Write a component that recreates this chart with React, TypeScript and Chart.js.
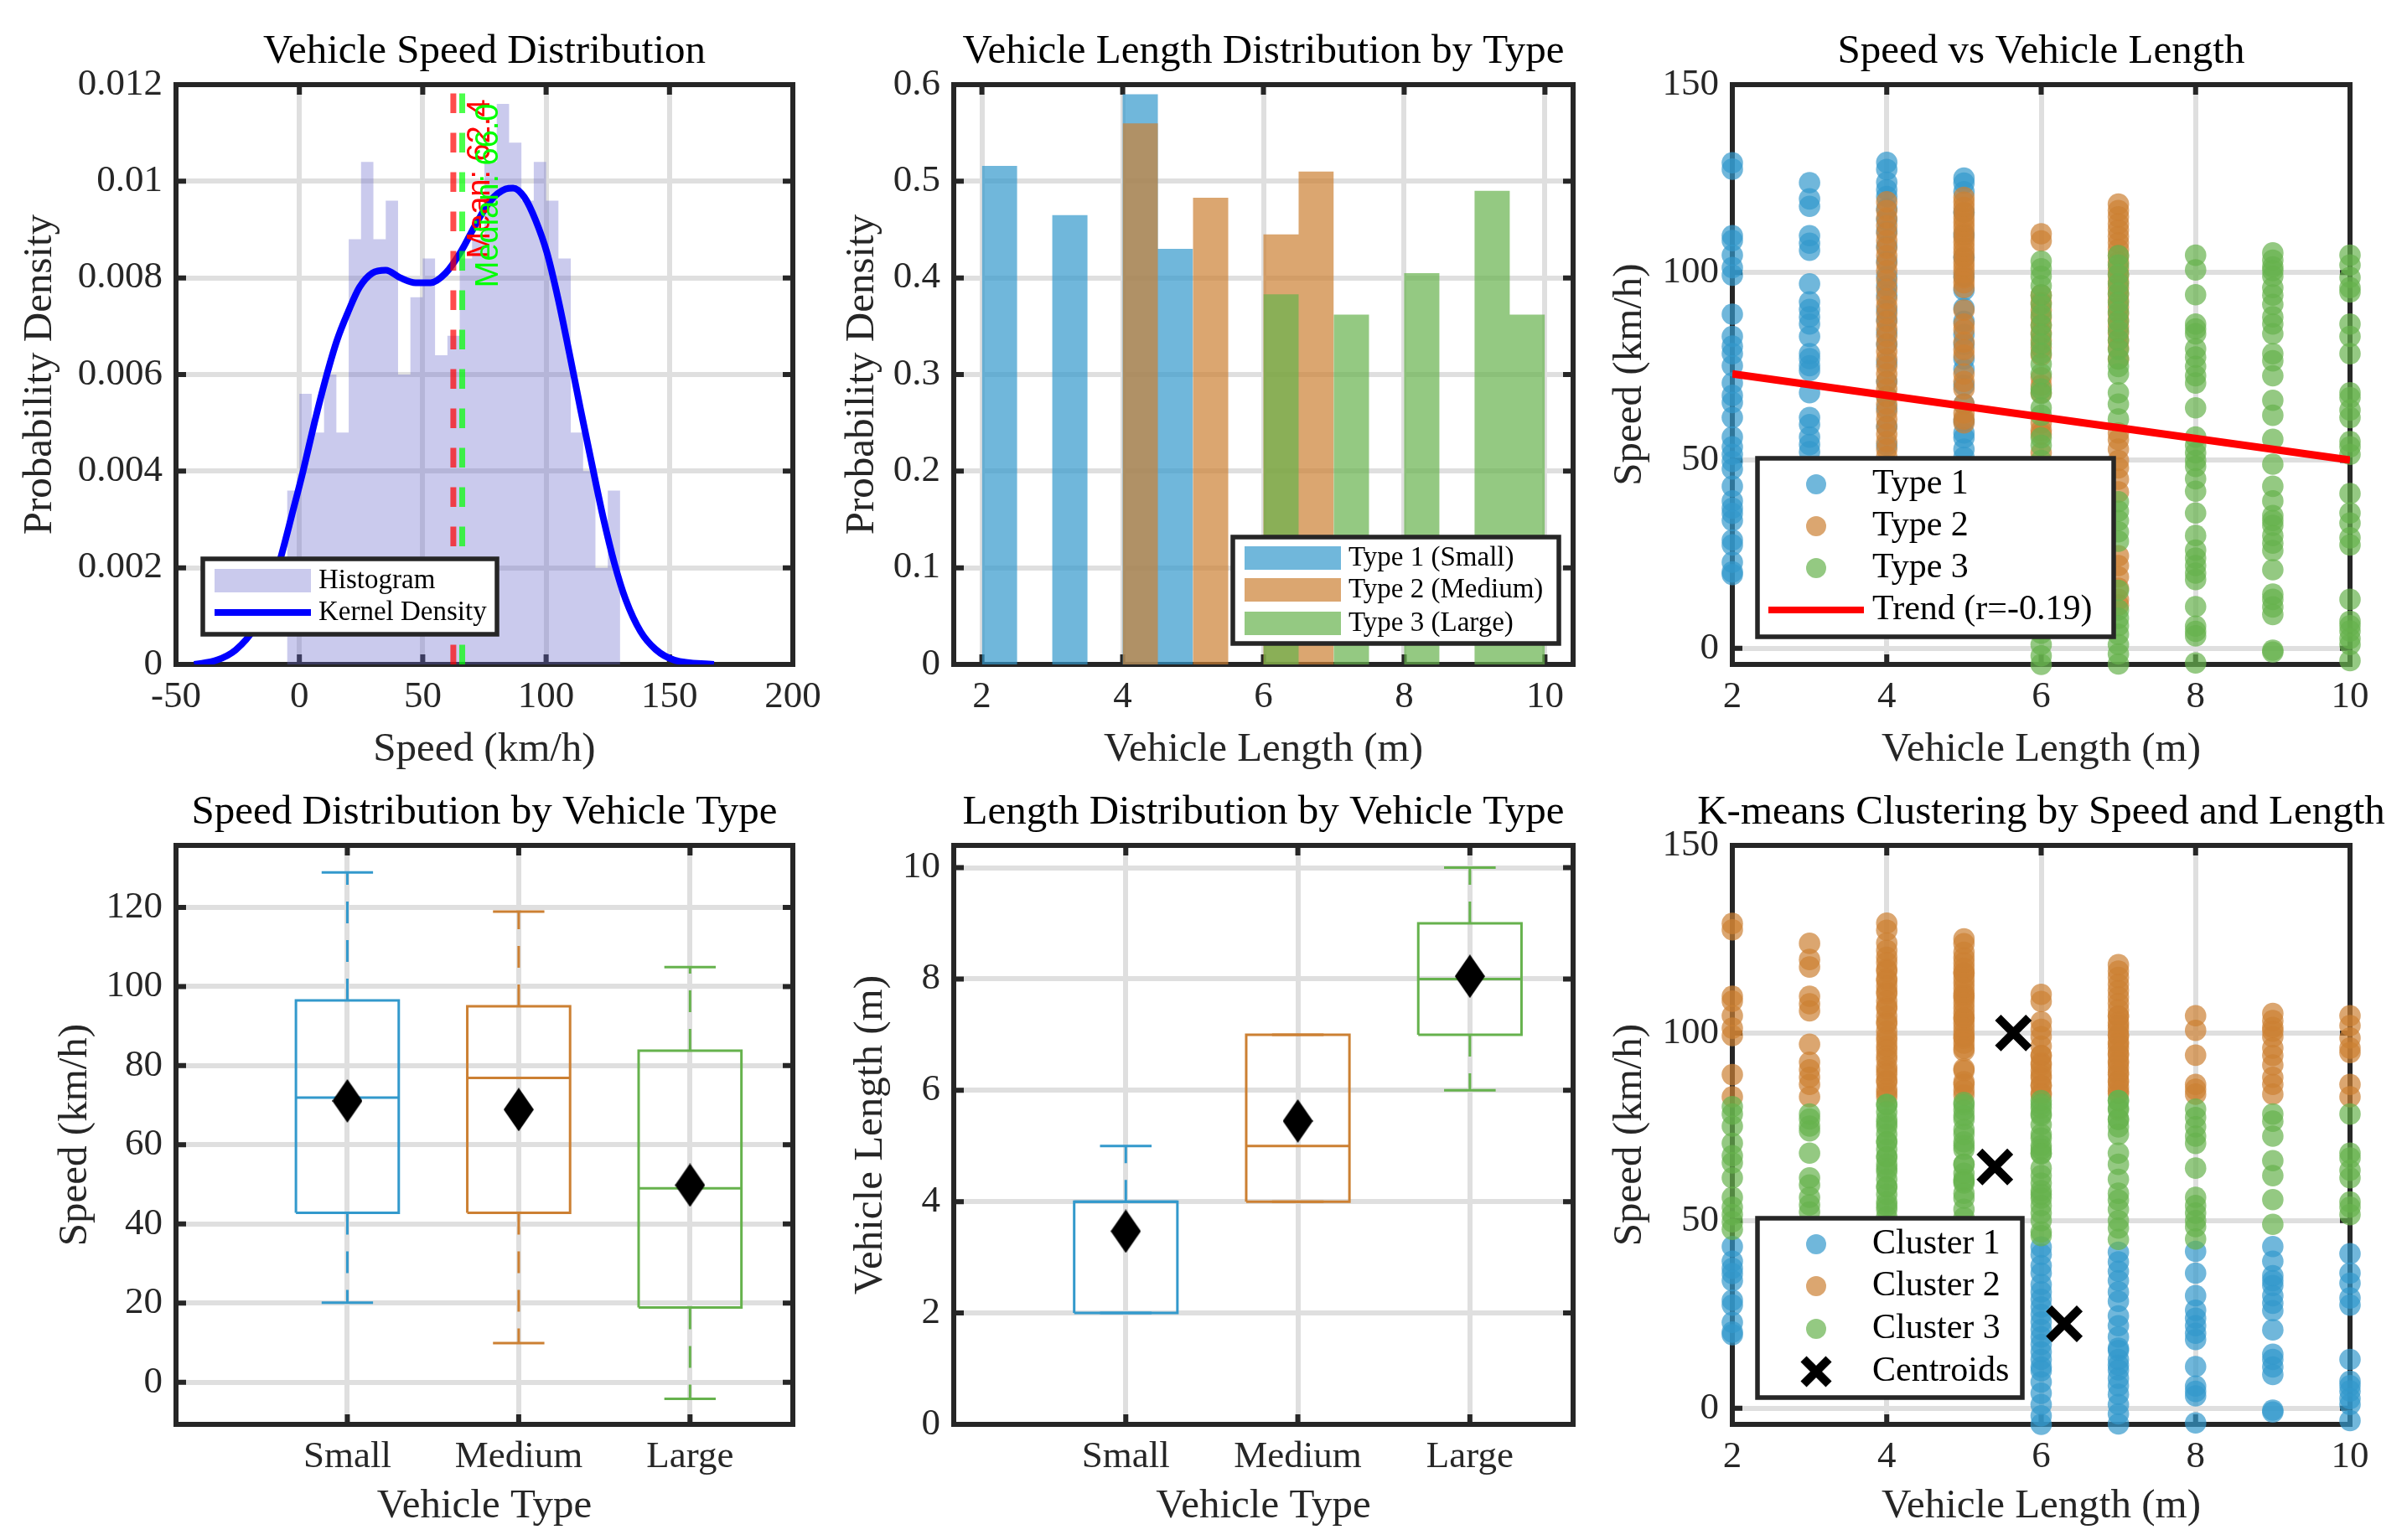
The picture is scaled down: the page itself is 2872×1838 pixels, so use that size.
import React, { useEffect, useRef } from 'react';
import { Chart, registerables } from 'chart.js';

Chart.register(...registerables);

const FIG_W = 2872;
const FIG_H = 1838;
const SERIF = '"Liberation Serif", "Times New Roman", serif';
const SANS = '"Liberation Sans", Arial, sans-serif';
const INK = '#262626';
const GRID = '#dfdfdf';
const TICK_SIZE = 45;
const LABEL_SIZE = 49;
const TITLE_SIZE = 49;

const BLUE = [51, 153, 204];
const ORANGE = [204, 128, 51];
const GREEN = [102, 178, 77];
const rgba = (c: number[], a: number) => `rgba(${c[0]},${c[1]},${c[2]},${a})`;

// ---------------- DATA ----------------
// Plot 1: speed histogram (density) + kernel density
const speedBinEdges = [-5, 0, 5, 10, 15, 20, 25, 30, 35, 40, 45, 50, 55, 60, 65, 70, 75, 80, 85, 90, 95, 100, 105, 110, 115, 120, 125, 130];
const speedBinDensity = [0.0036, 0.0056, 0.0048, 0.006, 0.0048, 0.0088, 0.0104, 0.0088, 0.0096, 0.006, 0.0076, 0.0084, 0.0064, 0.0068, 0.0084, 0.0088, 0.0104, 0.0116, 0.0108, 0.0096, 0.0104, 0.0096, 0.0084, 0.0048, 0.004, 0.002, 0.0036];
const kdeSpeed = [-42.6, -33.4, -25.8, -18.2, -12.2, -7.6, -3, 1.5, 6.1, 10.6, 15.2, 19.8, 24.3, 29.6, 35, 41, 47.1, 53.2, 59.3, 65.3, 71.4, 77.5, 83.6, 86.6, 91.2, 95.7, 100.3, 104.9, 109.4, 114, 118.5, 123.1, 127.7, 132.2, 138.3, 144.4, 152, 168];
const kdeDensity = [0, 0.00009, 0.0003, 0.00075, 0.0014, 0.0022, 0.0031, 0.004, 0.005, 0.0059, 0.0067, 0.0073, 0.0078, 0.0081, 0.00816, 0.008, 0.0079, 0.0079, 0.0081, 0.00853, 0.0091, 0.0096, 0.00984, 0.00986, 0.00967, 0.0092, 0.00853, 0.00756, 0.00645, 0.00527, 0.00416, 0.00305, 0.00209, 0.00135, 0.00068, 0.00031, 0.00009, 0];
const meanSpeed = 62.4;
const medianSpeed = 66.0;
const speedTicks = [-50, 0, 50, 100, 150, 200];
const density1Ticks = [0, 0.002, 0.004, 0.006, 0.008, 0.01, 0.012];

// Plot 2: length histograms per type
const type1LenEdges = [2, 2.5, 3, 3.5, 4, 4.5, 5];
const type1LenDensity = [0.516, 0, 0.465, 0, 0.59, 0.43];
const type2LenEdges = [4, 4.5, 5, 5.5, 6, 6.5, 7];
const type2LenDensity = [0.56, 0, 0.483, 0, 0.445, 0.51];
const type3LenEdges = [6, 6.5, 7, 7.5, 8, 8.5, 9, 9.5, 10];
const type3LenDensity = [0.383, 0, 0.362, 0, 0.405, 0, 0.49, 0.362];
const lengthTicks = [2, 4, 6, 8, 10];
const density2Ticks = [0, 0.1, 0.2, 0.3, 0.4, 0.5, 0.6];

// Plot 3 / 6: speed observations by vehicle length
const type1Lengths = [2, 3, 4, 5];
const type1Speeds = [
  [129.2, 127.5, 109.8, 108.5, 104.6, 101.3, 99.3, 88.9, 83, 80.4, 78.4, 75.2, 70.6, 67.3, 65.4, 61.4, 56.2, 53.6, 51.6, 49.7, 47.7, 43.1, 39.2, 37.3, 35.9, 34, 28.8, 27.5, 22.9, 20.3, 19.6],
  [123.9, 119.6, 117.6, 109.8, 107.8, 105.9, 97, 92.2, 90.2, 88.2, 86.3, 83, 78.4, 77.1, 75.2, 73.9, 68, 61.4, 59.5, 56.2, 54.2, 52.3, 46, 41, 35, 30, 24],
  [129.3, 127.4, 124, 122, 120.2, 117, 114, 111, 107, 103, 99, 96.5, 94, 90, 87.4, 84, 80.9, 76, 71, 67, 63.9, 59, 54, 47, 42, 38, 33, 29, 25, 21],
  [125.1, 123.8, 121.5, 116, 110, 104, 99, 95.3, 90.5, 87, 83.5, 80.9, 77, 74.3, 70, 65, 60.5, 57.3, 56, 53, 50.8, 45, 39, 33, 27, 21],
];
const type2Lengths = [4, 5, 6, 7];
const type2Speeds = [
  [118.8, 116.5, 114.5, 112.5, 110.5, 108.5, 106.5, 104.5, 102.5, 100.5, 98, 95.5, 93, 91, 89, 87, 85, 83, 81, 79, 77, 75, 73, 71, 69, 67, 65, 63, 61, 59, 57, 55, 53, 51, 48, 44, 39, 34, 28, 22, 16, 11],
  [120, 118.7, 117.3, 116, 114.6, 113.3, 112, 110.6, 109.3, 108, 106.6, 105.3, 104, 102.6, 101.3, 100, 98.6, 97.3, 96, 90, 86.3, 84.8, 81.5, 79.5, 78, 73, 71, 69, 65, 62.6, 61, 60, 48, 42, 36, 30, 25, 18],
  [110.3, 108.4, 94, 92, 90, 88, 86, 84, 82, 80, 78, 72, 70, 68, 60, 58, 57, 52, 47, 43, 38, 33, 29, 25, 21, 17, 13, 10],
  [118.2, 116.5, 114.8, 113, 111.3, 109.6, 107.9, 106.2, 104.5, 102.8, 101, 99.3, 97.6, 95.9, 94.2, 92.5, 90.8, 89, 87.3, 85.6, 83.9, 82, 80, 77, 57.3, 55.5, 53, 50, 48, 45, 41.6, 24.6, 22, 19, 16, 13, 11.5],
];
const type3Lengths = [6, 7, 8, 9, 10];
const type3Speeds = [
  [103, 101, 99, 96.5, 94, 91.5, 88.7, 86, 83.5, 81, 78.5, 75.6, 73, 69, 67.8, 64, 62, 56, 54, 50, 46, 41, 36, 31, 27, 23, 19, 15, 11, 7, 4, 1, -2, -4.3],
  [104.5, 102, 99.5, 97, 94.5, 92, 89.5, 87, 84.5, 82, 79.5, 77, 75, 73, 68, 65, 61, 39, 36.5, 34, 31, 28.5, 15.4, 10.2, 8, 6, 3.7, 1, -1.5, -4.2],
  [104.6, 100.7, 94.1, 86.3, 85, 83.7, 79.7, 77.5, 75, 72.5, 70.6, 64, 56.2, 54, 52, 50, 48.4, 45.1, 41.8, 36, 30, 26.1, 24, 22, 20, 18.3, 11.1, 5.9, 4.5, 3.3, -3.9],
  [105.2, 103.3, 101.5, 100.5, 99, 96, 94, 91.5, 88.2, 86.3, 83.7, 78.4, 76.5, 72.5, 66, 62, 55.6, 49, 43.1, 39.2, 35.3, 34, 32.7, 30, 28, 26, 20.9, 14.4, 13, 11, 9, -0.5, -1],
  [104.6, 102, 98.7, 96, 94.8, 86.3, 83, 78.4, 68, 66.7, 63.4, 61.4, 55, 53.6, 51.6, 41.2, 36, 33.3, 29.4, 27.5, 13, 7.2, 6, 4.6, 2.6, 1, -3.3],
];
const trendLength = [2, 10];
const trendSpeed = [73.0, 50.1];
const trendR = -0.19;
const speed3Ticks = [0, 50, 100, 150];

// K-means centroids (cluster 1, 2, 3)
const centroidLength = [6.3, 5.64, 5.4];
const centroidSpeed = [22.5, 100, 64.3];

// Plot 4 / 5: box plot summaries
const vehicleTypes = ['Small', 'Medium', 'Large'];
const typePositions = [1, 2, 3];
const speedMin = [20.1, 9.9, -4.2];
const speedQ1 = [42.8, 42.8, 18.9];
const speedMedian = [71.9, 76.9, 49.0];
const speedQ3 = [96.5, 95.0, 83.8];
const speedMax = [128.8, 118.9, 104.9];
const speedMean = [71.1, 68.9, 49.8];
const lengthMin = [2, 4, 6];
const lengthQ1 = [2, 4, 7];
const lengthMedian = [4, 5, 8];
const lengthQ3 = [4, 7, 9];
const lengthMax = [5, 7, 10];
const lengthMean = [3.47, 5.45, 8.05];
const boxSpeedTicks = [0, 20, 40, 60, 80, 100, 120];
const boxLengthTicks = [0, 2, 4, 6, 8, 10];

// ---------------- HELPERS ----------------
type P = { x: number; y: number };

function stepPoints(edges: number[], heights: number[]): P[] {
  const pts: P[] = [{ x: edges[0], y: 0 }];
  heights.forEach((h, i) => {
    pts.push({ x: edges[i], y: h }, { x: edges[i + 1], y: h });
  });
  pts.push({ x: edges[edges.length - 1], y: 0 });
  return pts;
}

function columnPoints(lengths: number[], speeds: number[][]): P[] {
  return lengths.flatMap((L, i) => speeds[i].map((s) => ({ x: L, y: s })));
}

const type1Points = columnPoints(type1Lengths, type1Speeds);
const type2Points = columnPoints(type2Lengths, type2Speeds);
const type3Points = columnPoints(type3Lengths, type3Speeds);

function nearestCluster(p: P): number {
  let best = 0;
  let bd = Infinity;
  centroidLength.forEach((cx, k) => {
    const d = (p.x - cx) ** 2 + (p.y - centroidSpeed[k]) ** 2;
    if (d < bd) {
      bd = d;
      best = k;
    }
  });
  return best;
}
const allPoints = [...type1Points, ...type2Points, ...type3Points];
const clusterPoints = [0, 1, 2].map((k) => allPoints.filter((p) => nearestCluster(p) === k));

const DOT_R = 12.8;

function axesOptions(a: any) {
  const lh = LABEL_SIZE * 1.2;
  const padLeft = a.yTitleX - lh / 2;
  const yWidth = a.L - padLeft;
  const xHeight = a.xTitleY - a.B + lh / 2;
  const tickFont = { family: SERIF, size: TICK_SIZE };
  const labelFont = { family: SERIF, size: LABEL_SIZE, lineHeight: 1.2 };
  const fmt = (v: number) => String(v);
  return {
    responsive: false,
    animation: false,
    devicePixelRatio: 1,
    events: [],
    layout: { padding: { left: padLeft, top: a.T, right: FIG_W - a.R, bottom: FIG_H - a.B - xHeight } },
    plugins: { legend: { display: false }, title: { display: false }, tooltip: { enabled: false } },
    scales: {
      x: {
        type: 'linear',
        min: a.xMin,
        max: a.xMax,
        afterBuildTicks: (s: any) => {
          s.ticks = a.xTicks.map((v: number) => ({ value: v }));
        },
        afterFit: (s: any) => {
          s.height = xHeight;
        },
        grid: { color: GRID, lineWidth: 6, drawTicks: false },
        border: { display: false },
        ticks: { color: INK, font: tickFont, padding: 12, autoSkip: false, maxRotation: 0, minRotation: 0, callback: a.xFmt || fmt },
        title: { display: true, text: a.xLabel, color: INK, font: labelFont, padding: 0 },
      },
      y: {
        type: 'linear',
        min: a.yMin,
        max: a.yMax,
        afterBuildTicks: (s: any) => {
          s.ticks = a.yTicks.map((v: number) => ({ value: v }));
        },
        afterFit: (s: any) => {
          s.width = yWidth;
        },
        grid: { color: GRID, lineWidth: 6, drawTicks: false },
        border: { display: false },
        ticks: { color: INK, font: tickFont, padding: 16, autoSkip: false, callback: fmt },
        title: { display: true, text: a.yLabel, color: INK, font: labelFont, padding: 0 },
      },
    },
  };
}

function boxPlugin() {
  return {
    id: 'matlabBox',
    beforeDatasetsDraw(chart: any) {
      const { ctx, chartArea, scales } = chart;
      const { left, top, right, bottom } = chartArea;
      const tl = 12;
      ctx.save();
      ctx.strokeStyle = INK;
      ctx.lineWidth = 6;
      ctx.beginPath();
      scales.x.ticks.forEach((t: any) => {
        const px = scales.x.getPixelForValue(t.value);
        ctx.moveTo(px, bottom);
        ctx.lineTo(px, bottom - tl);
        ctx.moveTo(px, top);
        ctx.lineTo(px, top + tl);
      });
      scales.y.ticks.forEach((t: any) => {
        const py = scales.y.getPixelForValue(t.value);
        ctx.moveTo(left, py);
        ctx.lineTo(left + tl, py);
        ctx.moveTo(right, py);
        ctx.lineTo(right - tl, py);
      });
      ctx.stroke();
      ctx.strokeRect(left, top, right - left, bottom - top);
      ctx.restore();
    },
  };
}

function titlePlugin(text: string) {
  return {
    id: 'figTitle',
    afterDraw(chart: any) {
      const { ctx, chartArea } = chart;
      ctx.save();
      ctx.fillStyle = '#000';
      ctx.font = `${TITLE_SIZE}px ${SERIF}`;
      ctx.textAlign = 'center';
      ctx.textBaseline = 'middle';
      ctx.fillText(text, (chartArea.left + chartArea.right) / 2, chartArea.top - 39);
      ctx.restore();
    },
  };
}

type LegendItem = { kind: string; color: string; label: string; y: number };
function legendPlugin(spec: { box: number[]; markerX: number[]; textX: number; fontSize: number; items: LegendItem[] }) {
  return {
    id: 'customLegend',
    afterDatasetsDraw(chart: any) {
      const { ctx } = chart;
      const [x0, y0, x1, y1] = spec.box;
      const [m0, m1] = spec.markerX;
      const mc = (m0 + m1) / 2;
      ctx.save();
      ctx.fillStyle = '#fff';
      ctx.fillRect(x0, y0, x1 - x0, y1 - y0);
      ctx.lineWidth = 5.5;
      ctx.strokeStyle = INK;
      ctx.strokeRect(x0, y0, x1 - x0, y1 - y0);
      spec.items.forEach((it) => {
        if (it.kind === 'rect') {
          ctx.fillStyle = it.color;
          ctx.fillRect(m0, it.y - 14, m1 - m0, 28);
        } else if (it.kind === 'line') {
          ctx.strokeStyle = it.color;
          ctx.lineWidth = 8;
          ctx.beginPath();
          ctx.moveTo(m0, it.y);
          ctx.lineTo(m1, it.y);
          ctx.stroke();
        } else if (it.kind === 'circle') {
          ctx.fillStyle = it.color;
          ctx.beginPath();
          ctx.arc(mc, it.y, 12, 0, Math.PI * 2);
          ctx.fill();
        } else if (it.kind === 'cross') {
          ctx.strokeStyle = it.color;
          ctx.lineWidth = 10;
          ctx.beginPath();
          ctx.moveTo(mc - 15, it.y - 15);
          ctx.lineTo(mc + 15, it.y + 15);
          ctx.moveTo(mc - 15, it.y + 15);
          ctx.lineTo(mc + 15, it.y - 15);
          ctx.stroke();
        }
        ctx.fillStyle = '#000';
        ctx.font = `${spec.fontSize}px ${SERIF}`;
        ctx.textAlign = 'left';
        ctx.textBaseline = 'middle';
        ctx.fillText(it.label, spec.textX, it.y);
      });
      ctx.restore();
    },
  };
}

function statTextPlugin(labels: { value: number; text: string; color: string; y: number }[]) {
  return {
    id: 'statText',
    afterDatasetsDraw(chart: any) {
      const { ctx, scales } = chart;
      ctx.save();
      ctx.font = `38px ${SANS}`;
      ctx.textAlign = 'left';
      ctx.textBaseline = 'middle';
      labels.forEach((l) => {
        const px = scales.x.getPixelForValue(l.value + 11);
        const py = scales.y.getPixelForValue(l.y);
        ctx.save();
        ctx.translate(px, py);
        ctx.rotate(-Math.PI / 2);
        ctx.fillStyle = l.color;
        ctx.fillText(l.text, 0, 0);
        ctx.restore();
      });
      ctx.restore();
    },
  };
}

function lineDs(data: P[], color: string, width: number, order: number, extra: any = {}) {
  return { data, borderColor: color, borderWidth: width, pointRadius: 0, fill: false, tension: 0, order, ...extra };
}

function scatterDs(data: P[], color: string, order: number) {
  return {
    data,
    showLine: false,
    pointRadius: DOT_R,
    pointBackgroundColor: color,
    pointBorderWidth: 0,
    pointBorderColor: 'transparent',
    clip: false,
    order,
  };
}

function boxDatasets(mins: number[], q1: number[], med: number[], q3: number[], maxs: number[], colors: number[][]) {
  const ds: any[] = [];
  typePositions.forEach((c, i) => {
    const col = rgba(colors[i], 1);
    const bw = 0.3;
    const cw = 0.15;
    ds.push(lineDs([{ x: c - bw, y: q1[i] }, { x: c + bw, y: q1[i] }, { x: c + bw, y: q3[i] }, { x: c - bw, y: q3[i] }, { x: c - bw, y: q1[i] }], col, 3, 3));
    ds.push(lineDs([{ x: c - bw, y: med[i] }, { x: c + bw, y: med[i] }], col, 3, 3));
    ds.push(lineDs([{ x: c, y: q3[i] }, { x: c, y: maxs[i] }], col, 3, 3, { borderDash: [26, 20] }));
    ds.push(lineDs([{ x: c, y: q1[i] }, { x: c, y: mins[i] }], col, 3, 3, { borderDash: [26, 20] }));
    ds.push(lineDs([{ x: c - cw, y: maxs[i] }, { x: c + cw, y: maxs[i] }], col, 3, 3));
    ds.push(lineDs([{ x: c - cw, y: mins[i] }, { x: c + cw, y: mins[i] }], col, 3, 3));
  });
  return ds;
}

function makeDiamond(w: number, h: number) {
  const c = document.createElement('canvas');
  c.width = w;
  c.height = h;
  const g = c.getContext('2d')!;
  g.fillStyle = '#000';
  g.beginPath();
  g.moveTo(w / 2, 0);
  g.lineTo(w, h / 2);
  g.lineTo(w / 2, h);
  g.lineTo(0, h / 2);
  g.closePath();
  g.fill();
  return c;
}

const typeFmt = (v: number) => {
  const i = typePositions.indexOf(v);
  return i >= 0 ? vehicleTypes[i] : '';
};

// ---------------- CHART CONFIGS ----------------
function chartSpeedHist() {
  const yMax = density1Ticks[density1Ticks.length - 1];
  return {
    type: 'line',
    data: {
      datasets: [
        { data: stepPoints(speedBinEdges, speedBinDensity), fill: 'origin', backgroundColor: 'rgba(102,102,204,0.35)', borderColor: 'transparent', borderWidth: 0, pointRadius: 0, tension: 0, order: 4 },
        lineDs(kdeSpeed.map((x, i) => ({ x, y: kdeDensity[i] })), '#0000ff', 8, 3, { cubicInterpolationMode: 'monotone' }),
        lineDs([{ x: meanSpeed, y: 0 }, { x: meanSpeed, y: yMax }], 'rgba(255,0,0,0.7)', 7, 2, { borderDash: [23.5, 23.5] }),
        lineDs([{ x: medianSpeed, y: 0 }, { x: medianSpeed, y: yMax }], 'rgba(0,255,0,0.7)', 7, 1, { borderDash: [23.5, 23.5] }),
      ],
    },
    options: axesOptions({ L: 210, T: 101, R: 946, B: 793, yTitleX: 48, xTitleY: 895, xMin: -50, xMax: 200, yMin: 0, yMax, xTicks: speedTicks, yTicks: density1Ticks, xLabel: 'Speed (km/h)', yLabel: 'Probability Density' }),
    plugins: [
      boxPlugin(),
      titlePlugin('Vehicle Speed Distribution'),
      statTextPlugin([
        { value: meanSpeed, text: `Mean: ${meanSpeed.toFixed(1)}`, color: '#ff0000', y: yMax * 0.7 },
        { value: medianSpeed, text: `Median: ${medianSpeed.toFixed(1)}`, color: '#00ff00', y: yMax * 0.65 },
      ]),
      legendPlugin({
        box: [242, 667, 593, 757],
        markerX: [256, 371],
        textX: 380,
        fontSize: 33,
        items: [
          { kind: 'rect', color: 'rgba(102,102,204,0.35)', label: 'Histogram', y: 693 },
          { kind: 'line', color: '#0000ff', label: 'Kernel Density', y: 731 },
        ],
      }),
    ],
  };
}

function chartLengthHist() {
  const histDs = (edges: number[], dens: number[], col: number[], order: number) => ({
    data: stepPoints(edges, dens),
    fill: 'origin',
    backgroundColor: rgba(col, 0.7),
    borderColor: 'transparent',
    borderWidth: 0,
    pointRadius: 0,
    tension: 0,
    order,
  });
  return {
    type: 'line',
    data: {
      datasets: [
        histDs(type1LenEdges, type1LenDensity, BLUE, 3),
        histDs(type2LenEdges, type2LenDensity, ORANGE, 2),
        histDs(type3LenEdges, type3LenDensity, GREEN, 1),
      ],
    },
    options: axesOptions({ L: 1138, T: 101, R: 1877, B: 793, yTitleX: 1029, xTitleY: 895, xMin: 1.6, xMax: 10.4, yMin: 0, yMax: 0.6, xTicks: lengthTicks, yTicks: density2Ticks, xLabel: 'Vehicle Length (m)', yLabel: 'Probability Density' }),
    plugins: [
      boxPlugin(),
      titlePlugin('Vehicle Length Distribution by Type'),
      legendPlugin({
        box: [1471, 641, 1860, 768],
        markerX: [1485, 1600],
        textX: 1609,
        fontSize: 33,
        items: [
          { kind: 'rect', color: rgba(BLUE, 0.7), label: 'Type 1 (Small)', y: 666 },
          { kind: 'rect', color: rgba(ORANGE, 0.7), label: 'Type 2 (Medium)', y: 704 },
          { kind: 'rect', color: rgba(GREEN, 0.7), label: 'Type 3 (Large)', y: 744 },
        ],
      }),
    ],
  };
}

function chartSpeedVsLength() {
  return {
    type: 'line',
    data: {
      datasets: [
        scatterDs(type1Points, rgba(BLUE, 0.7), 4),
        scatterDs(type2Points, rgba(ORANGE, 0.7), 3),
        scatterDs(type3Points, rgba(GREEN, 0.7), 2),
        lineDs(trendLength.map((x, i) => ({ x, y: trendSpeed[i] })), '#ff0000', 9, 1),
      ],
    },
    options: axesOptions({ L: 2067, T: 101, R: 2804, B: 793, yTitleX: 1945, xTitleY: 895, xMin: 2, xMax: 10, yMin: -4.3, yMax: 150, xTicks: lengthTicks, yTicks: speed3Ticks, xLabel: 'Vehicle Length (m)', yLabel: 'Speed (km/h)' }),
    plugins: [
      boxPlugin(),
      titlePlugin('Speed vs Vehicle Length'),
      legendPlugin({
        box: [2097, 547, 2522, 760],
        markerX: [2110, 2224],
        textX: 2234,
        fontSize: 42,
        items: [
          { kind: 'circle', color: rgba(BLUE, 0.7), label: 'Type 1', y: 578 },
          { kind: 'circle', color: rgba(ORANGE, 0.7), label: 'Type 2', y: 628 },
          { kind: 'circle', color: rgba(GREEN, 0.7), label: 'Type 3', y: 678 },
          { kind: 'line', color: '#ff0000', label: `Trend (r=${trendR.toFixed(2)})`, y: 728 },
        ],
      }),
    ],
  };
}

function chartSpeedBox(diamond: HTMLCanvasElement) {
  return {
    type: 'line',
    data: {
      datasets: [
        ...boxDatasets(speedMin, speedQ1, speedMedian, speedQ3, speedMax, [BLUE, ORANGE, GREEN]),
        { data: typePositions.map((x, i) => ({ x, y: speedMean[i] })), showLine: false, pointStyle: diamond, pointRadius: 10, clip: false, order: 1 },
      ],
    },
    options: axesOptions({ L: 210, T: 1009, R: 946, B: 1700, yTitleX: 90, xTitleY: 1798, xMin: 0, xMax: 3.6, yMin: -10.65, yMax: 135.65, xTicks: typePositions, yTicks: boxSpeedTicks, xLabel: 'Vehicle Type', yLabel: 'Speed (km/h)', xFmt: typeFmt }),
    plugins: [boxPlugin(), titlePlugin('Speed Distribution by Vehicle Type')],
  };
}

function chartLengthBox(diamond: HTMLCanvasElement) {
  return {
    type: 'line',
    data: {
      datasets: [
        ...boxDatasets(lengthMin, lengthQ1, lengthMedian, lengthQ3, lengthMax, [BLUE, ORANGE, GREEN]),
        { data: typePositions.map((x, i) => ({ x, y: lengthMean[i] })), showLine: false, pointStyle: diamond, pointRadius: 10, clip: false, order: 1 },
      ],
    },
    options: axesOptions({ L: 1138, T: 1009, R: 1877, B: 1700, yTitleX: 1039, xTitleY: 1798, xMin: 0, xMax: 3.6, yMin: 0, yMax: 10.4, xTicks: typePositions, yTicks: boxLengthTicks, xLabel: 'Vehicle Type', yLabel: 'Vehicle Length (m)', xFmt: typeFmt }),
    plugins: [boxPlugin(), titlePlugin('Length Distribution by Vehicle Type')],
  };
}

function chartClusters() {
  return {
    type: 'line',
    data: {
      datasets: [
        scatterDs(clusterPoints[0], rgba(BLUE, 0.7), 4),
        scatterDs(clusterPoints[1], rgba(ORANGE, 0.7), 3),
        scatterDs(clusterPoints[2], rgba(GREEN, 0.7), 2),
        {
          data: centroidLength.map((x, i) => ({ x, y: centroidSpeed[i] })),
          showLine: false,
          pointStyle: 'crossRot',
          pointRadius: 26,
          pointBorderWidth: 10,
          pointBorderColor: '#000',
          pointBackgroundColor: '#000',
          clip: false,
          order: 1,
        },
      ],
    },
    options: axesOptions({ L: 2067, T: 1009, R: 2804, B: 1700, yTitleX: 1945, xTitleY: 1798, xMin: 2, xMax: 10, yMin: -4.3, yMax: 150, xTicks: lengthTicks, yTicks: speed3Ticks, xLabel: 'Vehicle Length (m)', yLabel: 'Speed (km/h)' }),
    plugins: [
      boxPlugin(),
      titlePlugin('K-means Clustering by Speed and Length'),
      legendPlugin({
        box: [2097, 1454, 2413, 1668],
        markerX: [2110, 2224],
        textX: 2234,
        fontSize: 42,
        items: [
          { kind: 'circle', color: rgba(BLUE, 0.7), label: 'Cluster 1', y: 1485 },
          { kind: 'circle', color: rgba(ORANGE, 0.7), label: 'Cluster 2', y: 1535 },
          { kind: 'circle', color: rgba(GREEN, 0.7), label: 'Cluster 3', y: 1586 },
          { kind: 'cross', color: '#000', label: 'Centroids', y: 1637 },
        ],
      }),
    ],
  };
}

export default function App() {
  const r0 = useRef<HTMLCanvasElement>(null);
  const r1 = useRef<HTMLCanvasElement>(null);
  const r2 = useRef<HTMLCanvasElement>(null);
  const r3 = useRef<HTMLCanvasElement>(null);
  const r4 = useRef<HTMLCanvasElement>(null);
  const r5 = useRef<HTMLCanvasElement>(null);
  const refs = [r0, r1, r2, r3, r4, r5];

  useEffect(() => {
    Chart.defaults.font.family = SERIF;
    const diamond = makeDiamond(36, 52);
    const builders = [
      () => chartSpeedHist(),
      () => chartLengthHist(),
      () => chartSpeedVsLength(),
      () => chartSpeedBox(diamond),
      () => chartLengthBox(diamond),
      () => chartClusters(),
    ];
    const charts = builders.map((b, i) => new Chart(refs[i].current as HTMLCanvasElement, b() as any));
    return () => charts.forEach((c) => c.destroy());
  }, []);

  return (
    <div style={{ position: 'absolute', left: 0, top: 0, width: FIG_W, height: FIG_H, background: '#ffffff', overflow: 'hidden' }}>
      {refs.map((r, i) => (
        <canvas key={i} ref={r} width={FIG_W} height={FIG_H} style={{ position: 'absolute', left: 0, top: 0, width: FIG_W, height: FIG_H }} />
      ))}
    </div>
  );
}
